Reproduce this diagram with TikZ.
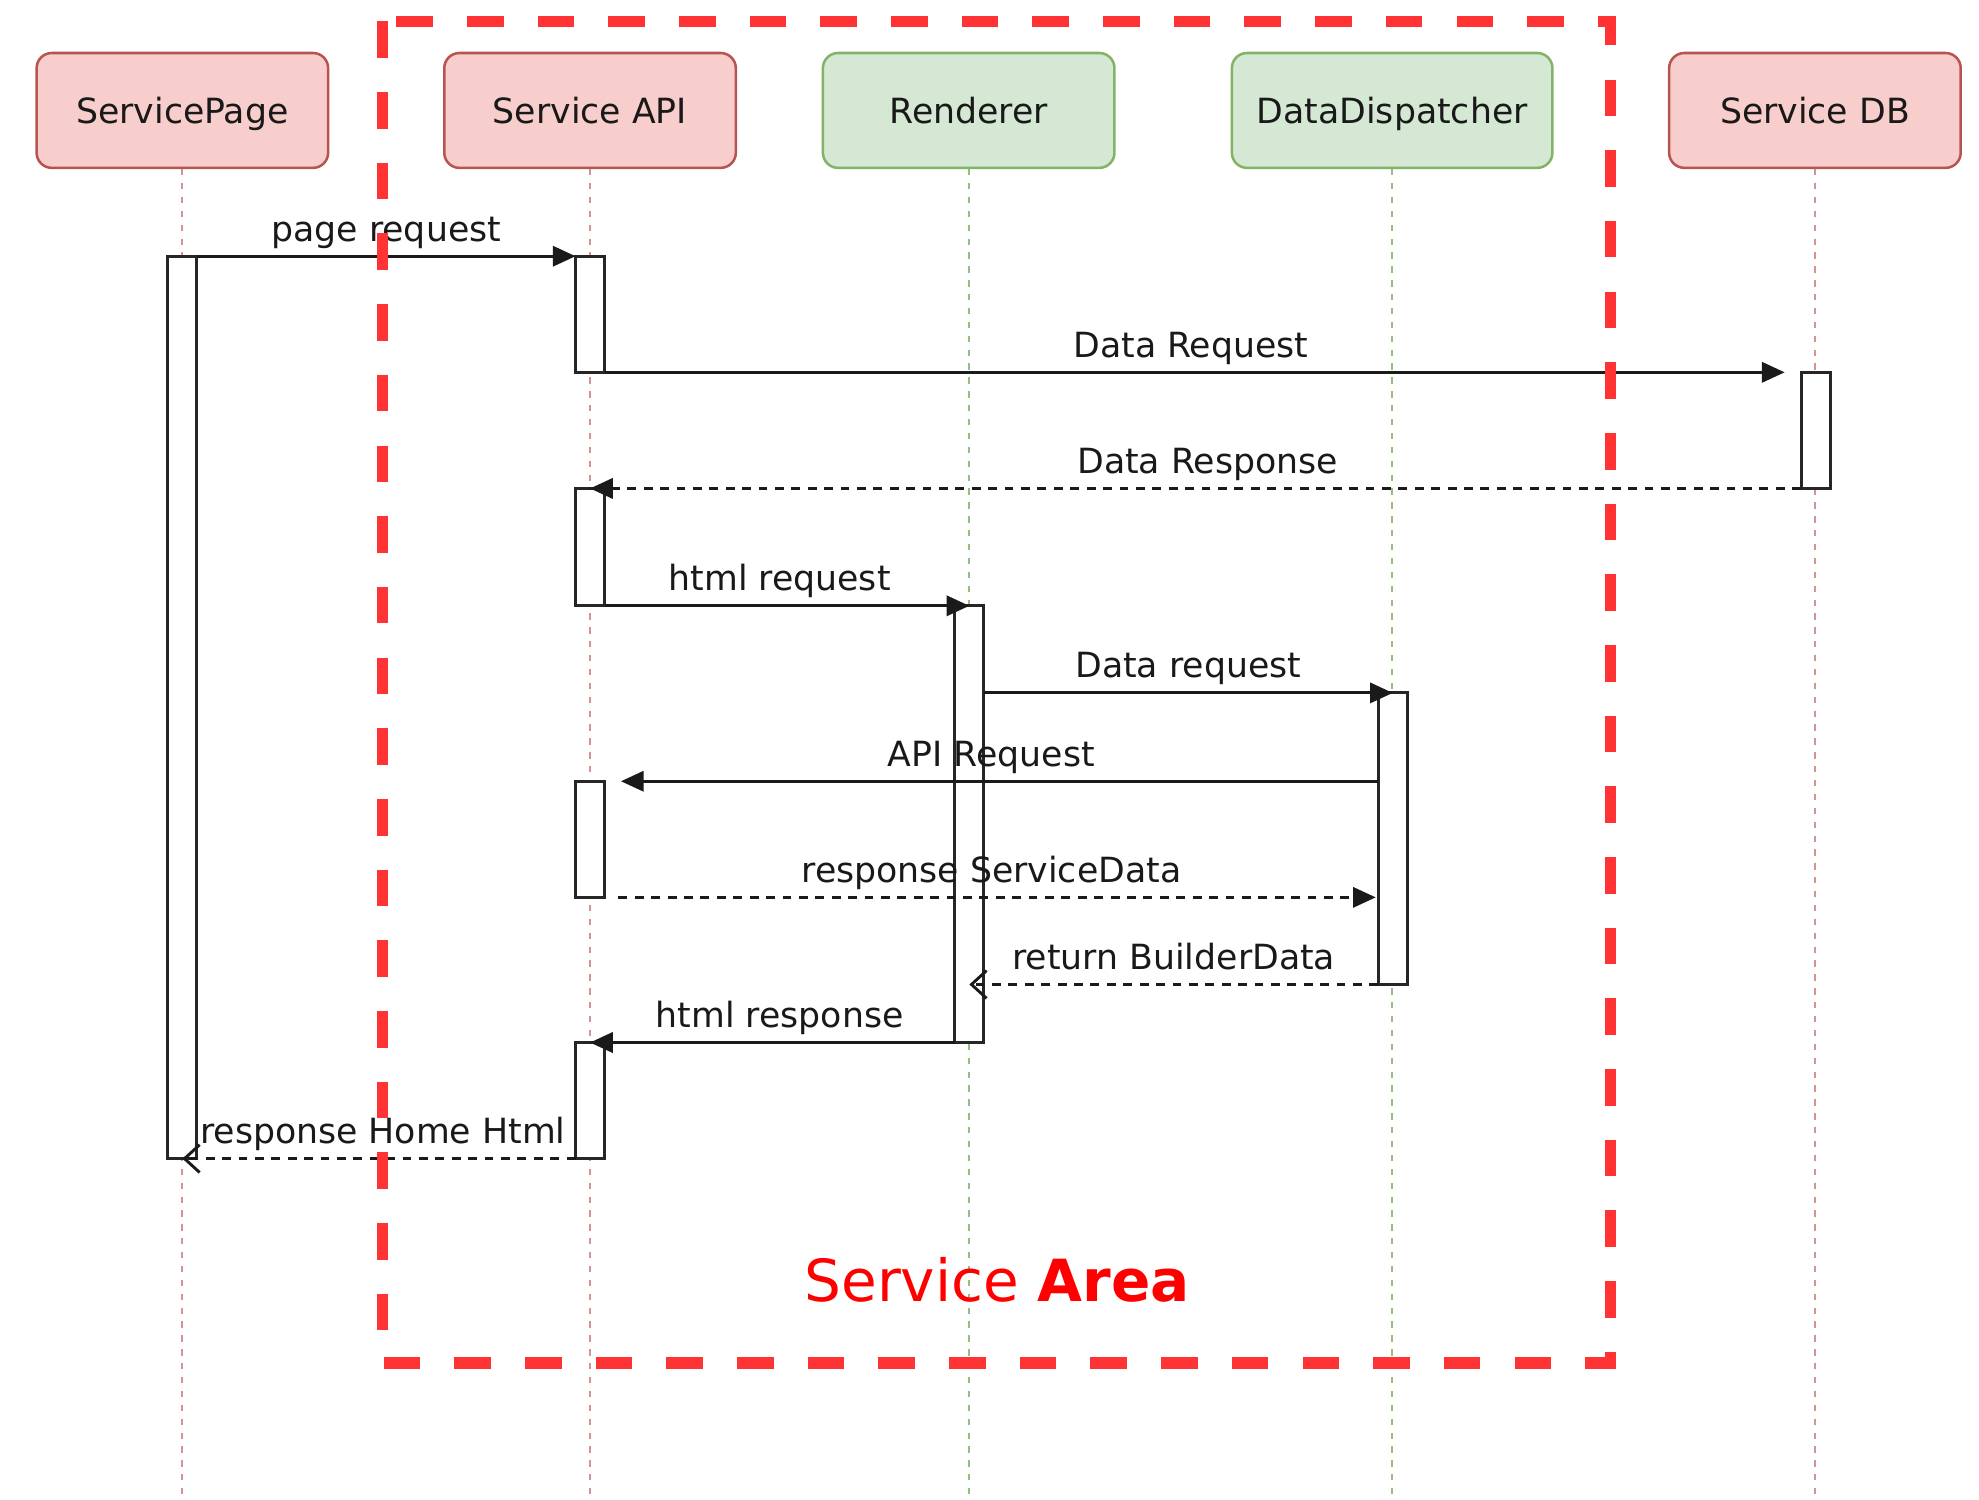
\documentclass[tikz,border=0pt]{standalone}
\usepackage{fontspec}
\setmainfont{DejaVu Sans}
\usetikzlibrary{arrows.meta}
\definecolor{pinkfill}{HTML}{F8CECC}
\definecolor{pinkdraw}{HTML}{B85450}
\definecolor{greenfill}{HTML}{D5E8D4}
\definecolor{greendraw}{HTML}{82B366}
\definecolor{pinkll}{HTML}{D49494}
\definecolor{greenll}{HTML}{94C07E}
\definecolor{areared}{HTML}{FF3333}
\definecolor{msgcol}{HTML}{1A1A1A}
\tikzset{
  head/.style={rounded corners=12pt, line width=2pt, minimum width=231pt, minimum height=91pt,
    inner sep=0pt, text height=20pt, text depth=0pt,
    font=\fontsize{27.5}{32}\selectfont, text=black!90},
  pinkhead/.style={head, draw=pinkdraw, fill=pinkfill},
  greenhead/.style={head, draw=greendraw, fill=greenfill},
  lifeline/.style={line width=1.6pt, dash pattern=on 5pt off 6pt},
  pinkline/.style={lifeline, draw=pinkll},
  greenline/.style={lifeline, draw=greenll},
  actbar/.style={draw=black!85, fill=white, line width=2.3pt, minimum width=23pt,
    inner sep=0pt, outer sep=0pt},
  msg/.style={draw=msgcol, line width=2.3pt},
  solidmsg/.style={msg, -{Triangle[length=18pt,width=16pt]}},
  dashmsg/.style={msg, dash pattern=on 7pt off 6pt, -{Triangle[length=18pt,width=16pt]}},
  retmsg/.style={msg, dash pattern=on 7pt off 6pt, -{Straight Barb[length=12pt,width=22pt]}},
  lbl/.style={anchor=base, yshift=12pt, inner sep=0pt, font=\fontsize{27.5}{32}\selectfont, text=black!90},
  area/.style={draw=areared, line width=9pt, dash pattern=on 29pt off 27pt},
}
\begin{document}
\begin{tikzpicture}[x=1pt, y=-1pt]
\useasboundingbox (0,0) rectangle (1568,1188);

% headers
\node[pinkhead] (sp) at (144.5,87.5) {ServicePage};
\node[pinkhead] (api) at (467.5,87.5) {Service API};
\node[greenhead] (ren) at (767.5,87.5) {Renderer};
\node[greenhead, minimum width=254pt] (dd) at (1103,87.5) {DataDispatcher};
\node[pinkhead] (db) at (1438,87.5) {Service DB};

% lifeline ends
\coordinate (spend) at (144.5,1188);
\coordinate (apiend) at (467.5,1188);
\coordinate (renend) at (767.5,1188);
\coordinate (ddend) at (1103,1188);
\coordinate (dbend) at (1438,1188);

\draw[pinkline] (sp.south) -- (spend);
\draw[pinkline] (api.south) -- (apiend);
\draw[greenline] (ren.south) -- (renend);
\draw[greenline] (dd.south) -- (ddend);
\draw[pinkline] (db.south) -- (dbend);

% activation bars
\node[actbar, minimum height=715pt] (spbar) at (144.5,560.5) {};
\node[actbar, minimum height=92pt] (api1) at (467.5,249) {};
\node[actbar, minimum height=92pt] (db1) at (1438.5,341) {};
\node[actbar, minimum height=93pt] (api2) at (467.5,433.5) {};
\node[actbar, minimum height=346pt] (renbar) at (768,653) {};
\node[actbar, minimum height=231pt] (ddbar) at (1103.5,664.5) {};
\node[actbar, minimum height=92pt] (api3) at (467.5,665) {};
\node[actbar, minimum height=92pt] (api4) at (467.5,872) {};

% messages
\draw[solidmsg] (spbar.north east) -- (api1.north west)
  node[lbl, midway] {page request};
\draw[solidmsg, shorten >=13pt] (api1.south east) -- (db1.north west)
  node[lbl, pos=0.49] {Data Request};
\draw[dashmsg] (db1.south west) -- (api2.north)
  node[lbl, pos=0.49] {Data Response};
\draw[solidmsg] (api2.south east) -- (renbar.north)
  node[lbl, pos=0.48] {html request};
\draw[solidmsg] (ddbar.north -| renbar.east) -- (ddbar.north)
  node[lbl, midway] {Data request};
\draw[solidmsg, shorten >=13pt] (api3.north east -| ddbar.west) -- (api3.north east)
  node[lbl, midway] {API Request};
\draw[dashmsg, shorten <=11pt, shorten >=2pt] (api3.south east) -- (api3.south east -| ddbar.west)
  node[lbl, midway] {response ServiceData};
\draw[retmsg] (ddbar.south west) -- (ddbar.south west -| renbar.north)
  node[lbl, midway] {return BuilderData};
\draw[solidmsg] (renbar.south west) -- (api4.north)
  node[lbl, pos=0.48] {html response};
\draw[retmsg] (api4.south west) -- (api4.south west -| spbar.north)
  node[lbl, pos=0.49] {response Home Html};

% service area
\node[inner sep=0pt, text=red, font=\fontsize{46}{54}\selectfont] (areatxt) at (790,1014) {Service \textbf{Area}};
\draw[area] (303,17) rectangle (1276,1080);
\end{tikzpicture}
\end{document}
